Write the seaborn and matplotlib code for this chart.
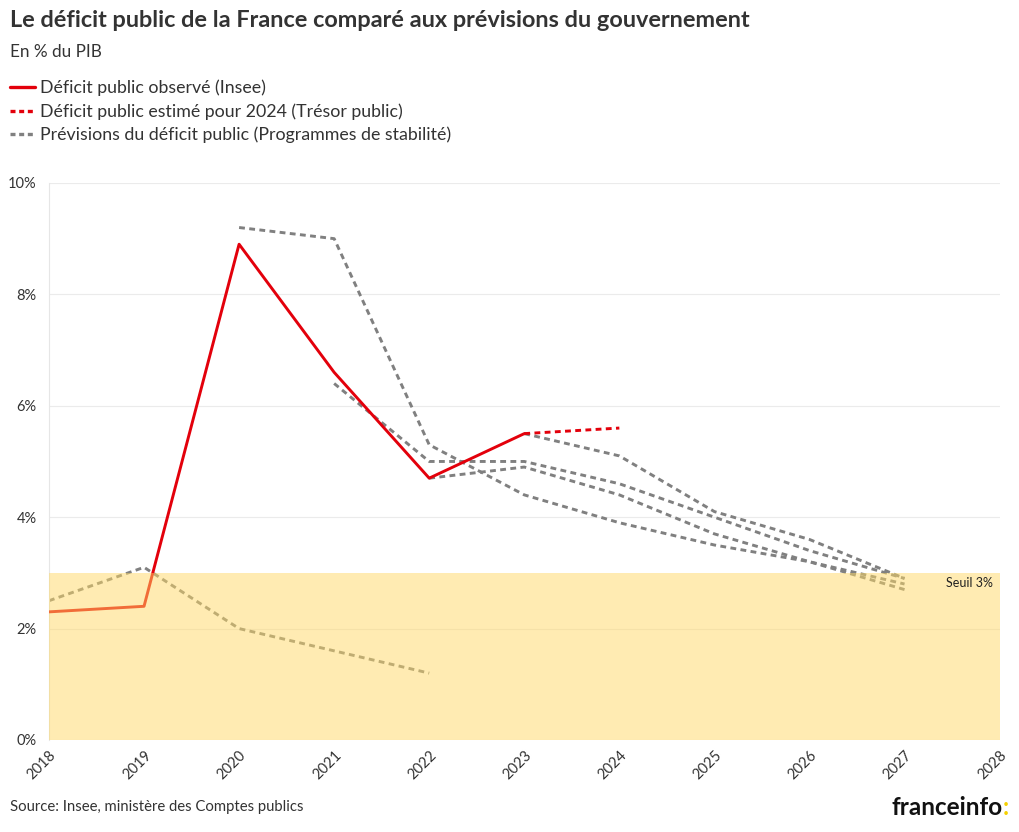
import matplotlib
matplotlib.use("Agg")
import matplotlib.pyplot as plt
import seaborn as sns
import pandas as pd
from matplotlib.lines import Line2D

# ---- data ----
obs_years = [2018, 2019, 2020, 2021, 2022, 2023]
obs_values = [2.3, 2.4, 8.9, 6.6, 4.7, 5.5]

est_years = [2023, 2024]
est_values = [5.5, 5.6]

ps2019_years = [2018, 2019, 2020, 2021, 2022]
ps2019_values = [2.5, 3.1, 2.0, 1.6, 1.2]

ps2021_years = [2020, 2021, 2022, 2023, 2024, 2025, 2026, 2027]
ps2021_values = [9.2, 9.0, 5.3, 4.4, 3.9, 3.5, 3.2, 2.8]

ps2022_years = [2021, 2022, 2023, 2024, 2025, 2026, 2027]
ps2022_values = [6.4, 5.0, 5.0, 4.6, 4.0, 3.4, 2.9]

ps2023_years = [2022, 2023, 2024, 2025, 2026, 2027]
ps2023_values = [4.7, 4.9, 4.4, 3.7, 3.2, 2.7]

ps2024_years = [2023, 2024, 2025, 2026, 2027]
ps2024_values = [5.5, 5.1, 4.1, 3.6, 2.9]

x_ticks = list(range(2018, 2029))
y_ticks = [0, 2, 4, 6, 8, 10]
y_tick_labels = ["0%", "2%", "4%", "6%", "8%", "10%"]

threshold = 3.0

title = "Le déficit public de la France comparé aux prévisions du gouvernement"
subtitle = "En % du PIB"
legend_labels = ["Déficit public observé (Insee)",
                 "Déficit public estimé pour 2024 (Trésor public)",
                 "Prévisions du déficit public (Programmes de stabilité)"]
source = "Source: Insee, ministère des Comptes publics"

# ---- style ----
sns.set_style("white")
plt.rcParams["font.family"] = ["Lato", "DejaVu Sans"]

RED = "#e3000b"
GRAY = "#808080"
TXT = "#333333"

fig = plt.figure(figsize=(10.2, 8.32), dpi=100)
ax = fig.add_axes([0.048, 0.1106, 0.932, 0.6695])

dash = (2.0, 1.5)

forecasts = [(ps2019_years, ps2019_values), (ps2021_years, ps2021_values),
             (ps2022_years, ps2022_values), (ps2023_years, ps2023_values),
             (ps2024_years, ps2024_values)]
for yrs, vals in forecasts:
    df = pd.DataFrame({"year": yrs, "value": vals})
    sns.lineplot(data=df, x="year", y="value", ax=ax, color=GRAY,
                 linewidth=2.1, zorder=2).lines[-1].set_dashes(dash)

df_obs = pd.DataFrame({"year": obs_years, "value": obs_values})
sns.lineplot(data=df_obs, x="year", y="value", ax=ax, color=RED,
             linewidth=2.1, zorder=3)
df_est = pd.DataFrame({"year": est_years, "value": est_values})
ln = sns.lineplot(data=df_est, x="year", y="value", ax=ax, color=RED,
                  linewidth=2.1, zorder=3).lines[-1]
ln.set_dashes(dash)

# threshold band drawn on top (semi transparent)
ax.axhspan(0, threshold, color="#ffd966", alpha=0.5, lw=0, zorder=4)
ax.text(2027.93, threshold - 0.19, "Seuil 3%", ha="right", va="center",
        fontsize=9, color="#222222", zorder=5)

ax.set_xlim(2018, 2028)
ax.set_ylim(0, 10)
ax.set_xticks(x_ticks)
ax.set_xticklabels([str(t) for t in x_ticks], rotation=45, ha="right",
                   rotation_mode="anchor", fontsize=10.5, color=TXT)
ax.set_yticks(y_ticks)
ax.set_yticklabels(y_tick_labels, fontsize=10.5, color=TXT)
ax.tick_params(axis="y", length=0, pad=9)
ax.tick_params(axis="x", length=0, pad=6)
ax.set_xlabel("")
ax.set_ylabel("")
ax.grid(axis="y", color="#ebebeb", linewidth=0.8, zorder=0)
ax.set_axisbelow(True)
for s in ["top", "right", "bottom"]:
    ax.spines[s].set_visible(False)
ax.spines["left"].set_color("#e6e6e6")
ax.spines["left"].set_linewidth(0.8)

# titles
fig.text(0.0098, 0.975, title, fontsize=16.9, fontweight="bold", color=TXT,
         ha="left", va="center")
fig.text(0.0098, 0.937, subtitle, fontsize=12.3, color=TXT, ha="left", va="center")

handles = [Line2D([], [], color=RED, lw=2.4),
           Line2D([], [], color=RED, lw=2.4, dashes=(1.5, 1.1)),
           Line2D([], [], color=GRAY, lw=2.4, dashes=(1.5, 1.1))]
fig.legend(handles, legend_labels, loc="upper left",
           bbox_to_anchor=(0.0098, 0.904), frameon=False, fontsize=12.8,
           handlelength=1.4, handletextpad=0.3, labelspacing=0.38,
           labelcolor=TXT, borderaxespad=0, borderpad=0)

fig.text(0.0098, 0.03, source, fontsize=10.7, color=TXT, ha="left", va="center")
fig.text(0.983, 0.03, "franceinfo", fontsize=17.5, fontweight="bold",
         color="#111111", ha="right", va="center")
fig.text(0.983, 0.03, ":", fontsize=17.5, fontweight="bold", color="#f5d000",
         ha="left", va="center")

fig.savefig("out.png", dpi=100)
